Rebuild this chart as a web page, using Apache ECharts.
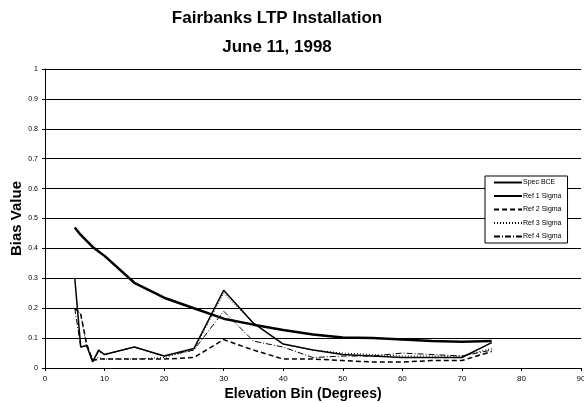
<!DOCTYPE html>
<html>
<head>
<meta charset="UTF-8">
<title>Fairbanks LTP Installation</title>
<script type="text/javascript" src="https://cdn.jsdelivr.net/npm/echarts@6/dist/echarts.min.js"></script>
<style>
html,body{margin:0;padding:0;background:#fff;}
</style>
</head>
<body>
<div id="box" style="width:584px;height:403px;"></div>

<script type="text/javascript">
// elevation bins (degrees)
var bins = [5, 6, 7, 8, 9, 10, 15, 20, 25, 30, 35, 40, 45, 50, 55, 60, 65, 70, 75];

var specBCE = [0.47, 0.445, 0.425, 0.405, 0.39, 0.375, 0.285, 0.235, 0.20, 0.165, 0.145, 0.127, 0.112, 0.102, 0.10, 0.095, 0.09, 0.088, 0.09];
var ref1 = [0.30, 0.07, 0.075, 0.02, 0.06, 0.045, 0.07, 0.04, 0.065, 0.26, 0.15, 0.08, 0.06, 0.045, 0.04, 0.035, 0.035, 0.035, 0.085];
var ref2 = [0.20, 0.18, 0.08, 0.025, 0.03, 0.03, 0.03, 0.03, 0.035, 0.095, 0.06, 0.03, 0.03, 0.025, 0.02, 0.02, 0.025, 0.025, 0.055];
var ref3 = [0.20, 0.18, 0.07, 0.03, 0.035, 0.03, 0.03, 0.035, 0.06, 0.25, 0.15, 0.08, 0.06, 0.05, 0.045, 0.04, 0.04, 0.04, 0.065];
var ref4 = [0.20, 0.07, 0.075, 0.025, 0.055, 0.045, 0.07, 0.04, 0.06, 0.19, 0.09, 0.07, 0.035, 0.04, 0.04, 0.05, 0.045, 0.04, 0.06];

var xTicks = [0, 10, 20, 30, 40, 50, 60, 70, 80, 90];
var yTicks = [0, 0.1, 0.2, 0.3, 0.4, 0.5, 0.6, 0.7, 0.8, 0.9, 1];

function pairs(vals){
  var out = [];
  for (var i = 0; i < bins.length; i++) out.push([bins[i], vals[i]]);
  return out;
}

function line(name, vals, width, type){
  return {
    name: name,
    type: 'line',
    data: pairs(vals),
    symbol: 'none',
    color: '#000',
    animation: false,
    itemStyle: {color: '#000'},
    lineStyle: {color: '#000', width: width, type: type}
  };
}

var mychart = echarts.init(document.getElementById('box'));

mychart.setOption({
  backgroundColor: '#fff',
  textStyle: {fontFamily: 'Liberation Sans'},
  title: {
    text: 'Fairbanks LTP Installation\nJune 11, 1998',
    left: 277,
    textAlign: 'center',
    top: 4,
    padding: 0,
    textStyle: {fontSize: 17, fontWeight: 'bold', color: '#000', lineHeight: 29}
  },
  legend: {
    orient: 'vertical',
    left: 485,
    top: 176,
    width: 90,
    padding: [3, 6, 3, 8],
    itemWidth: 28,
    itemHeight: 8,
    itemGap: 6.5,
    borderColor: '#000',
    borderWidth: 1,
    backgroundColor: '#fff',
    itemStyle: {opacity: 0},
    textStyle: {fontSize: 7, color: '#000', padding: [0, 0, 0, -4]},
    data: ['Spec BCE', 'Ref 1 Sigma', 'Ref 2 Sigma', 'Ref 3 Sigma', 'Ref 4 Sigma']
  },
  grid: {left: 45, right: 3, top: 69, bottom: 35, containLabel: false, outerBoundsMode: 'none'},
  xAxis: {
    type: 'value',
    min: xTicks[0],
    max: xTicks[xTicks.length - 1],
    interval: 10,
    name: 'Elevation Bin (Degrees)',
    nameLocation: 'middle',
    nameGap: 19,
    nameMoveOverlap: false,
    nameTextStyle: {fontSize: 14, fontWeight: 'bold', color: '#000', padding: [0, 0, 0, -20]},
    axisLine: {lineStyle: {color: '#000', width: 1}},
    axisTick: {show: true, inside: false, length: 3, lineStyle: {color: '#000'}},
    axisLabel: {fontSize: 8, color: '#000', margin: 7},
    splitLine: {show: false}
  },
  yAxis: {
    type: 'value',
    min: yTicks[0],
    max: yTicks[yTicks.length - 1],
    interval: 0.1,
    name: 'Bias Value',
    nameLocation: 'middle',
    nameGap: 21,
    nameMoveOverlap: false,
    nameTextStyle: {fontSize: 15, fontWeight: 'bold', color: '#000'},
    axisLine: {show: true, lineStyle: {color: '#000', width: 1}},
    axisTick: {show: true, length: 3, lineStyle: {color: '#000'}},
    axisLabel: {fontSize: 7, color: '#000', margin: 7, formatter: function(v){ return String(Math.round(v * 10) / 10); }},
    splitLine: {show: true, lineStyle: {color: '#000', width: 1}}
  },
  series: [
    line('Spec BCE', specBCE, 2.5, 'solid'),
    line('Ref 1 Sigma', ref1, 1.5, 'solid'),
    line('Ref 2 Sigma', ref2, 1.5, [5, 3]),
    line('Ref 3 Sigma', ref3, 1, [1, 2]),
    line('Ref 4 Sigma', ref4, 1, [6, 2, 1, 2])
  ]
});
</script>
</body>
</html>
